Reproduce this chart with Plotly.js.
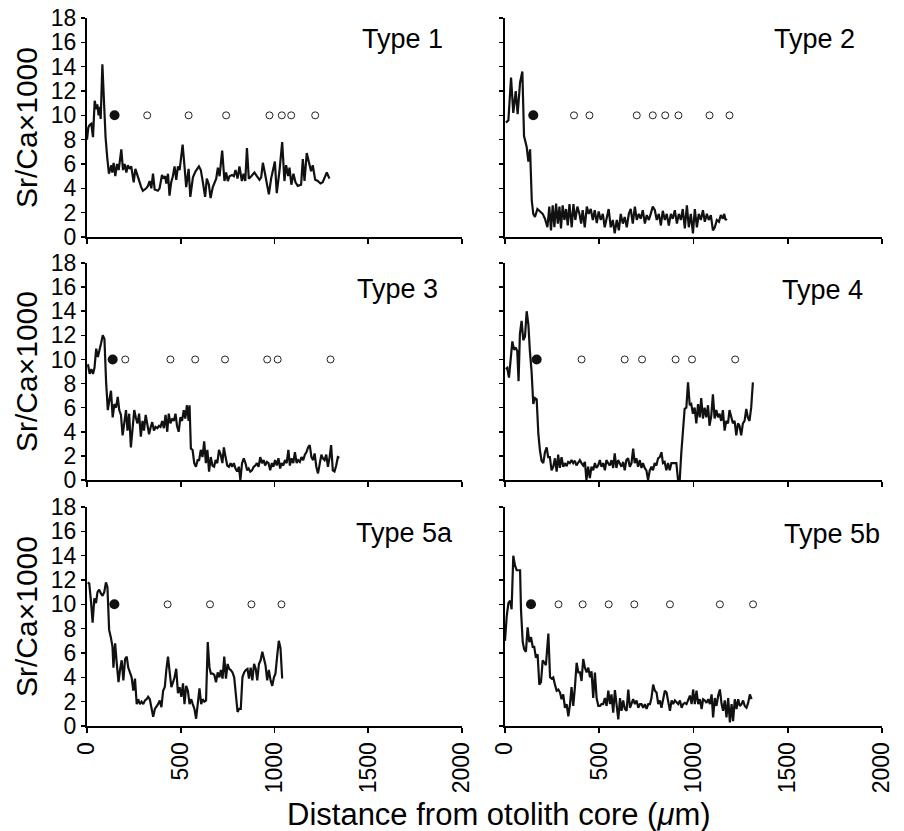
<!DOCTYPE html>
<html>
<head>
<meta charset="utf-8">
<script src="https://cdn.plot.ly/plotly-3.0.1.min.js"></script>
<style>
html,body{margin:0;padding:0;background:#fff;}
#chart{width:904px;height:831px;}
</style>
</head>
<body>
<div id="chart"></div>
<script>
// ---------- Data (distance from otolith core in µm, Sr/Ca x1000) ----------
const panelNames = ["Type 1", "Type 2", "Type 3", "Type 4", "Type 5a", "Type 5b"];

const t1x = [0,7,14,23,32,41,50,55,62,67,73,82,91,99,108,117,130,135,142,151,160,169,183,192,201,210,218,227,236,249,258,268,281,289,298,316,325,334,343,352,361,378,387,400,408,417,423,432,440,449,458,467,476,485,494,510,520,529,542,551,565,579,597,607,618,630,639,650,659,671,689,698,707,714,721,733,742,751,760,773,783,792,803,813,826,835,844,853,863,876,893,906,920,929,938,952,970,982,1002,1012,1027,1041,1053,1062,1073,1080,1090,1101,1112,1124,1142,1151,1160,1172,1183,1195,1204,1217,1231,1245,1257,1268,1279,1293];
const t1y = [8.0,9.0,9.2,9.3,8.2,11.2,10.5,10.9,10.0,10.7,9.7,14.2,11.0,8.2,6.5,5.2,5.9,5.3,6.1,5.0,6.0,5.5,7.2,5.5,6.0,5.3,5.9,5.6,5.8,4.5,5.6,5.1,4.4,4.1,3.8,4.0,4.2,4.6,4.0,5.2,3.9,3.8,4.0,5.1,4.8,5.0,4.4,5.2,3.4,4.5,5.0,5.8,4.7,5.8,5.5,7.6,5.8,4.1,5.6,3.3,4.9,5.4,5.8,5.5,4.5,3.3,4.8,4.3,3.2,4.1,4.8,5.7,5.0,6.0,7.1,4.6,5.3,4.6,5.0,5.1,5.0,5.5,4.8,5.8,4.6,5.2,4.6,7.3,4.8,5.0,5.3,5.0,4.7,4.9,6.1,5.0,3.5,4.8,6.2,3.6,5.5,7.8,4.6,5.9,5.0,5.7,4.3,5.2,4.5,4.2,4.3,6.4,4.6,6.9,6.2,5.4,5.9,4.7,4.6,4.4,4.5,4.9,5.3,4.8];
const t1FilledX = [147];
const t1FilledY = [10];
const t1OpenX = [321,542,742,973,1039,1089,1217];
const t1OpenY = [10,10,10,10,10,10,10];

const t2x = [5,18,32,44,57,67,80,92,101,115,124,133,142,150,159,172,186,200,212,225,235,244,253,262,271,280,289,297,306,315,324,333,342,354,363,373,384,395,404,412,423,434,444,455,466,476,487,497,508,519,529,540,550,561,572,582,593,604,614,625,635,646,657,667,678,689,699,710,720,731,742,752,763,773,784,795,805,816,827,837,848,858,869,880,890,901,912,922,933,943,954,965,975,986,997,1007,1018,1028,1039,1050,1060,1071,1081,1092,1103,1113,1124,1135,1145,1156,1163,1170,1177];
const t2y = [9.4,9.6,13.1,10.2,12.0,10.1,12.7,13.6,8.3,7.4,6.2,7.2,3.0,1.9,1.65,2.3,2.1,1.9,1.5,0.8,2.5,0.55,2.6,0.8,2.75,1.1,2.5,0.7,2.6,1.4,2.3,0.95,2.7,0.8,2.7,1.4,2.5,1.9,1.1,2.2,0.8,2.5,1.9,2.3,1.4,2.2,1.15,2.1,1.4,1.9,0.8,1.65,2.3,0.8,1.4,0.3,1.4,0.55,1.9,1.1,1.65,0.8,1.9,2.3,1.1,2.5,1.4,1.9,1.5,2.2,1.1,1.8,1.4,1.9,2.5,2.2,1.4,1.9,0.95,2.15,1.4,1.9,0.95,1.9,1.5,2.2,1.1,1.9,1.4,2.3,0.7,2.6,0.8,1.9,0.3,2.3,0.8,1.9,1.4,2.2,1.25,1.9,1.4,1.8,0.55,0.8,1.4,1.25,1.8,1.5,1.9,1.4,1.5];
const t2FilledX = [150];
const t2FilledY = [10];
const t2OpenX = [366,448,699,784,850,920,1085,1191];
const t2OpenY = [10,10,10,10,10,10,10,10];

const t3x = [5,14,23,32,40,49,58,67,76,84,93,102,111,120,128,137,146,155,164,172,181,190,199,208,216,225,234,243,252,260,269,278,287,296,304,313,322,331,340,348,357,366,375,384,392,401,410,419,428,436,445,454,463,472,480,489,498,507,516,524,533,542,547,554,563,572,581,590,598,607,616,625,634,642,651,660,669,678,686,695,704,713,722,730,739,748,757,766,774,783,792,801,810,818,827,836,845,854,862,871,880,889,898,906,915,924,933,942,950,959,968,977,986,994,1003,1012,1021,1030,1038,1047,1056,1065,1074,1082,1091,1100,1109,1118,1126,1135,1144,1153,1162,1170,1179,1188,1197,1206,1214,1223,1232,1241,1250,1258,1267,1276,1285,1294,1302,1311,1320,1329,1338,1346];
const t3y = [9.6,8.8,9.2,8.8,9.3,10.9,10.2,10.7,11.4,12.0,11.7,8.1,5.8,6.7,7.4,5.2,6.3,6.0,6.9,5.8,5.4,3.7,4.9,5.8,4.1,5.5,2.7,4.4,5.8,5.2,4.7,5.5,3.6,4.9,4.1,5.4,4.7,3.8,4.4,4.8,4.1,4.4,4.3,4.5,4.4,4.9,4.3,5.4,4.0,5.5,4.7,5.1,4.9,5.5,4.5,4.0,5.2,4.9,5.8,5.1,6.2,4.9,6.2,2.6,2.5,1.4,1.1,1.65,1.65,2.5,1.9,3.2,1.4,2.5,0.7,1.9,1.2,1.1,1.65,1.4,2.5,2.1,1.4,2.7,1.9,1.2,1.1,1.4,1.1,1.4,0.95,0.7,1.1,0.0,1.4,1.8,1.4,0.8,0.95,0.7,0.8,1.1,1.2,1.4,1.1,1.9,1.4,1.65,1.2,1.5,1.4,0.8,1.4,1.1,1.65,1.2,1.8,0.95,1.4,1.2,1.65,1.4,2.5,1.2,1.8,1.4,2.3,1.4,1.65,1.5,1.9,1.65,2.1,2.3,2.7,2.9,1.9,1.65,2.2,1.1,0.55,1.4,2.1,1.8,1.65,2.1,1.1,1.9,2.9,0.8,0.7,1.2,1.9,1.85];
const t3FilledX = [137];
const t3FilledY = [10];
const t3OpenX = [204,445,577,736,961,1017,1299];
const t3OpenY = [10,10,10,10,10,10,10];

const t4x = [4,12,21,30,39,48,56,65,72,79,88,97,106,115,124,132,141,150,159,168,177,185,194,203,212,221,229,238,247,256,265,274,282,291,300,309,318,327,335,344,353,362,371,379,388,397,406,415,424,432,441,450,459,468,477,485,494,503,512,521,530,538,547,556,565,574,582,591,600,609,618,627,635,644,653,662,671,680,688,697,706,715,724,732,741,750,759,768,777,785,794,803,812,821,830,838,847,856,865,874,883,891,900,909,918,927,935,944,953,962,971,980,988,997,1006,1015,1024,1033,1041,1050,1059,1068,1077,1085,1094,1103,1112,1121,1130,1138,1147,1156,1165,1174,1183,1191,1200,1209,1218,1227,1236,1244,1253,1262,1271,1280,1288,1297,1306,1315];
const t4y = [9.2,9.3,8.5,10.4,11.5,10.8,11.0,10.7,8.2,12.1,13.2,11.6,11.9,14.0,12.9,10.7,9.0,6.3,6.8,6.7,3.8,2.5,1.6,1.4,2.3,2.7,1.9,1.9,0.8,1.1,1.8,0.7,2.1,1.0,1.9,1.1,1.4,1.15,1.5,1.4,1.65,1.4,1.6,1.2,1.4,1.65,1.4,1.2,1.5,0.0,1.1,0.15,1.1,0.8,1.4,1.0,1.2,1.65,1.1,1.4,0.8,1.65,1.4,1.2,1.65,1.0,2.2,1.0,1.65,1.4,1.1,1.5,0.8,1.65,1.8,1.1,1.4,2.6,1.4,1.8,1.1,1.65,1.0,1.4,1.0,0.8,0.0,0.8,1.1,0.8,1.4,1.2,1.8,1.9,2.3,1.4,1.5,0.8,1.4,0.8,1.4,1.4,1.4,1.4,0.0,0.0,2.2,4.4,5.9,6.0,8.1,6.2,6.3,5.5,6.0,4.7,6.3,5.2,6.8,5.1,6.0,5.2,6.2,4.5,5.3,7.1,5.1,5.8,5.2,5.5,4.9,5.8,4.1,4.9,4.7,5.8,5.1,4.7,4.9,3.7,4.7,4.5,3.7,4.7,4.9,5.9,5.2,4.9,6.0,8.1];
const t4FilledX = [168];
const t4FilledY = [10];
const t4OpenX = [406,635,727,905,992,1221];
const t4OpenY = [10,10,10,10,10,10];

const t5ax = [4,12,21,30,39,48,56,65,74,83,92,101,109,118,127,136,141,150,159,168,176,185,194,203,212,220,229,238,247,256,265,273,282,291,300,309,318,326,335,344,353,362,370,379,388,397,406,415,423,432,441,450,459,467,476,485,494,503,512,520,529,538,547,556,564,573,582,591,600,609,617,626,635,644,653,661,670,679,688,697,706,714,723,732,741,750,758,767,776,785,794,803,811,820,829,838,847,856,864,873,882,891,900,908,917,926,935,944,952,961,970,979,988,997,1005,1014,1023,1032,1041];
const t5ay = [11.8,11.7,10.3,8.5,10.5,10.1,11.0,11.2,10.9,10.7,11.0,11.8,11.4,7.9,7.3,6.5,4.8,6.8,5.1,3.6,4.6,5.4,3.75,5.5,5.7,4.8,4.4,4.0,2.9,3.9,1.8,2.2,1.8,2.0,1.8,2.1,2.2,2.4,2.2,1.3,0.75,1.4,1.55,1.8,2.1,1.55,2.9,3.2,4.6,5.7,4.4,3.2,3.6,4.0,4.7,2.7,3.2,2.4,3.5,1.8,3.3,2.9,1.8,2.2,1.8,1.4,0.6,1.8,3.1,1.8,2.2,2.0,2.1,6.9,4.8,4.3,4.3,4.2,3.6,4.4,4.0,4.6,3.9,5.7,3.9,5.1,4.7,4.6,4.4,4.0,2.7,1.15,1.4,1.4,4.0,4.4,4.6,4.7,3.9,4.8,3.75,5.1,4.7,3.75,5.1,5.4,6.1,5.4,5.0,3.75,4.6,3.75,3.3,4.0,4.3,5.7,7.0,6.4,3.9];
const t5aFilledX = [146];
const t5aFilledY = [10];
const t5aOpenX = [430,656,877,1037];
const t5aOpenY = [10,10,10,10];

const t5bx = [0,9,18,27,35,44,53,62,71,80,85,94,102,111,120,129,138,147,155,164,173,182,191,200,209,217,230,239,247,256,265,274,283,292,300,309,318,327,336,345,353,362,371,380,389,398,406,415,424,433,442,451,459,468,477,486,495,504,512,521,530,539,548,557,565,574,583,592,601,610,618,627,636,645,654,663,671,680,689,698,707,716,724,733,742,751,760,769,777,786,795,804,813,822,830,839,848,857,866,875,884,892,901,910,919,928,937,945,954,963,972,981,990,998,1007,1016,1025,1034,1043,1051,1060,1069,1078,1087,1096,1104,1113,1122,1131,1140,1149,1157,1166,1175,1184,1193,1202,1210,1219,1228,1237,1246,1255,1263,1272,1281,1290,1299,1308];
const t5by = [7.0,9.0,10.1,10.3,9.6,14.0,13.2,12.8,12.8,12.8,9.5,6.9,6.3,6.1,8.1,6.9,7.3,6.5,6.5,5.6,5.9,3.4,3.6,5.4,5.2,5.0,7.6,4.0,3.9,4.0,3.4,2.9,3.0,2.75,2.2,2.6,1.5,1.8,0.8,1.8,3.2,1.65,3.2,5.2,4.4,4.4,3.7,5.5,4.8,4.4,4.8,4.0,4.5,2.3,4.4,2.3,1.65,1.65,1.8,1.8,2.3,1.65,2.9,1.8,2.6,1.1,2.95,1.8,0.55,2.3,1.25,2.1,1.4,1.25,3.0,1.5,1.8,2.2,1.8,2.1,1.5,1.8,1.8,1.5,1.8,1.4,1.8,1.8,2.3,3.4,2.9,2.75,1.8,2.1,1.5,2.3,2.9,2.75,1.8,1.25,2.1,1.8,2.1,1.9,1.8,2.1,1.5,1.8,1.9,1.8,2.1,2.5,1.8,3.0,1.8,2.9,1.8,2.2,1.4,2.2,2.1,1.9,2.2,1.8,2.6,0.7,2.3,1.65,2.5,3.0,1.8,1.25,2.1,0.7,2.3,0.3,1.8,0.4,2.2,1.4,2.2,1.65,1.8,2.1,1.65,1.5,1.9,2.6,2.2];
const t5bFilledX = [138];
const t5bFilledY = [10];
const t5bOpenX = [284,412,550,686,875,1140,1316];
const t5bOpenY = [10,10,10,10,10,10,10];

const yTickVals = [0,2,4,6,8,10,12,14,16,18];
const xTickVals = [0,500,1000,1500,2000];

// ---------- Layout geometry ----------
const W = 904, H = 831;
const colPx = [[87, 462], [505, 882]];
const rowPx = [[18, 237], [263, 480], [507, 726]];

const panels = [
  {name: panelNames[0], x: t1x, y: t1y, fx: t1FilledX, fy: t1FilledY, ox: t1OpenX, oy: t1OpenY, col: 0, row: 0, lx: 0.955, ly: 0.905},
  {name: panelNames[1], x: t2x, y: t2y, fx: t2FilledX, fy: t2FilledY, ox: t2OpenX, oy: t2OpenY, col: 1, row: 0, lx: 0.934, ly: 0.905},
  {name: panelNames[2], x: t3x, y: t3y, fx: t3FilledX, fy: t3FilledY, ox: t3OpenX, oy: t3OpenY, col: 0, row: 1, lx: 0.941, ly: 0.88},
  {name: panelNames[3], x: t4x, y: t4y, fx: t4FilledX, fy: t4FilledY, ox: t4OpenX, oy: t4OpenY, col: 1, row: 1, lx: 0.955, ly: 0.875},
  {name: panelNames[4], x: t5ax, y: t5ay, fx: t5aFilledX, fy: t5aFilledY, ox: t5aOpenX, oy: t5aOpenY, col: 0, row: 2, lx: 0.981, ly: 0.88},
  {name: panelNames[5], x: t5bx, y: t5by, fx: t5bFilledX, fy: t5bFilledY, ox: t5bOpenX, oy: t5bOpenY, col: 1, row: 2, lx: 1.0, ly: 0.877}
];

const FONT = "Liberation Sans, Arial, Helvetica, sans-serif";
const traces = [];
const layout = {
  width: W, height: H,
  margin: {l: 0, r: 0, t: 0, b: 0},
  paper_bgcolor: "#ffffff",
  plot_bgcolor: "rgba(0,0,0,0)",
  showlegend: false,
  font: {family: FONT, color: "#000", size: 23},
  annotations: []
};

panels.forEach((p, i) => {
  const n = i + 1;
  const xa = "x" + (n === 1 ? "" : n);
  const ya = "y" + (n === 1 ? "" : n);
  const xKey = "xaxis" + (n === 1 ? "" : n);
  const yKey = "yaxis" + (n === 1 ? "" : n);
  const cx = colPx[p.col], ry = rowPx[p.row];

  traces.push({
    type: "scatter", mode: "lines", x: p.x, y: p.y, xaxis: xa, yaxis: ya,
    line: {color: "#111", width: 2.2}, hoverinfo: "skip"
  });
  traces.push({
    type: "scatter", mode: "markers", x: p.ox, y: p.oy, xaxis: xa, yaxis: ya,
    marker: {symbol: "circle", size: 7, color: "#fff", line: {color: "#222", width: 1}},
    cliponaxis: false, hoverinfo: "skip"
  });
  traces.push({
    type: "scatter", mode: "markers", x: p.fx, y: p.fy, xaxis: xa, yaxis: ya,
    marker: {symbol: "circle", size: 10, color: "#111"},
    cliponaxis: false, hoverinfo: "skip"
  });

  layout[xKey] = {
    domain: [cx[0] / W, cx[1] / W],
    anchor: ya,
    range: [0, 2000],
    tickmode: "array", tickvals: xTickVals, ticktext: xTickVals.map(String),
    showticklabels: p.row === 2,
    tickangle: -90,
    ticks: "outside", ticklen: 5, tickwidth: 1.6, tickcolor: "#000",
    showline: true, linecolor: "#000", linewidth: 2,
    showgrid: false, zeroline: false,
    tickfont: {family: FONT, size: 23, color: "#000"},
    fixedrange: true
  };
  layout[yKey] = {
    domain: [1 - ry[1] / H, 1 - ry[0] / H],
    anchor: xa,
    range: [0, 18],
    tickmode: "array", tickvals: yTickVals, ticktext: yTickVals.map(String),
    showticklabels: p.col === 0,
    ticks: "outside", ticklen: 4, tickwidth: 1.6, tickcolor: "#000",
    showline: true, linecolor: "#000", linewidth: 2,
    showgrid: false, zeroline: false,
    tickfont: {family: FONT, size: 23, color: "#000"},
    fixedrange: true
  };
  if (p.col === 0) {
    layout[yKey].title = {text: "Sr/Ca×1000", font: {family: FONT, size: 30, color: "#000"}, standoff: 4};
  }

  layout.annotations.push({
    text: p.name, xref: xa + " domain", yref: ya + " domain",
    x: p.lx, y: p.ly, xanchor: "right", yanchor: "middle",
    showarrow: false, font: {family: FONT, size: 27, color: "#000"}
  });
});

layout.annotations.push({
  text: "Distance from otolith core (<i>μ</i>m)",
  xref: "paper", yref: "paper", x: 499 / W, y: 1 - 814 / H,
  xanchor: "center", yanchor: "middle", showarrow: false,
  font: {family: FONT, size: 31, color: "#000"}
});

Plotly.newPlot("chart", traces, layout, {staticPlot: true, displayModeBar: false});
</script>
</body>
</html>
